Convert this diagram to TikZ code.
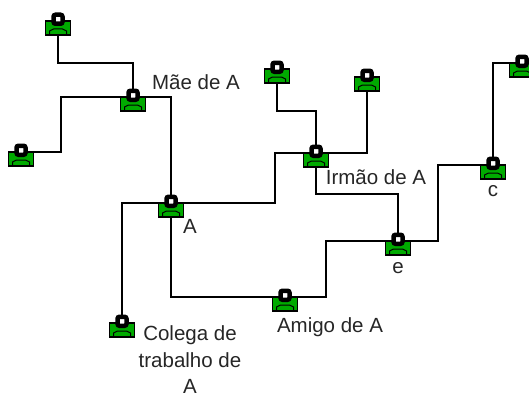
\documentclass[tikz,border=0pt]{standalone}
\usepackage{fontspec}
\setmainfont{Liberation Sans}
\usepackage{tikz}
\definecolor{shirt}{RGB}{0,170,0}
\tikzset{
person/.style={draw=black, fill=shirt, line width=1.5pt, minimum width=25pt, minimum height=14pt, inner sep=0pt, anchor=north, outer sep=0pt,
	path picture={\draw[black, line width=1pt]
		([xshift=4pt]path picture bounding box.south west) -- ++(0,-4) -- ++(4,-2) -- ++(9,0) -- ++(4,2) -- ++(0,4);},
	label={[head, label distance=-5pt]above:{}}},
head/.style={draw=black, fill=white, line width=4.5pt, minimum size=9pt, inner sep=0pt, rounded corners=2pt},
tag/.style={font=\fontsize{20.5}{26.5}\selectfont, text=black!85, align=center, inner sep=0pt},
link/.style={draw=black, line width=2pt}
}
\usetikzlibrary{calc, positioning, backgrounds}

\begin{document}
\begin{tikzpicture}[x=1pt, y=-1pt, node distance=6pt]
			\useasboundingbox (0,0) rectangle (529,396);
			\node[person] (avo) at (58,21) {};
			\node[person] (mae) at (133,97) {};
			\node[person] (tia) at (21,152) {};
			\node[person] (A) at (171,203) {};
			\node[person] (colega) at (122,323) {};
			\node[person] (amigo) at (285,297) {};
			\node[person] (irmao) at (316,153) {};
			\node[person] (primo) at (277,69) {};
			\node[person] (prima) at (367,77) {};
			\node[person] (B) at (398,241) {};
			\node[person] (C) at (493,165) {};
			\node[person] (D) at (522,63) {};
			% ----
			\node[tag] (tmae) at (196,82) {Mãe de A};
			\node[tag] (tA) at (190,226) {A};
			\node[tag] (tirmao) at (376,177) {Irmão de A};
			\node[tag, below = 6pt of C] (tC) {c};
			\node[tag, below = 7pt of B] (tB) {e};
			\node[tag] (tamigo) at (330,327) {Amigo de A};
			\node[tag] (tcolega) at (190,360) {Colega de\\trabalho de\\A};
			% ----
			\begin{scope}[on background layer]
			\draw[link] (avo.south) -- ++(0,28) -| (mae.north);
			\draw[link] (mae.north west) -- ++(-60,0) |- (tia.north east);
			\draw[link] (mae.north east) -| (A.north);
			\draw[link] (A.north west) -| (colega.north);
			\draw[link] (A.north east) -- ++(91,0) |- (irmao.north west);
			\draw[link] (A.south) |- (amigo.north west);
			\draw[link] (amigo.north east) -- ++(28,0) |- (B.north west);
			\draw[link] (primo.south) -- ++(0,28) -| (irmao.north);
			\draw[link] (prima.south) |- (irmao.north east);
			\draw[link] (irmao.south) -- ++(0,27) -| (B.north);
			\draw[link] (B.north east) -- ++(27,0) |- (C.north west);
			\draw[link] (C.north) |- (D.north west);
			\end{scope}
		\end{tikzpicture}
\end{document}
